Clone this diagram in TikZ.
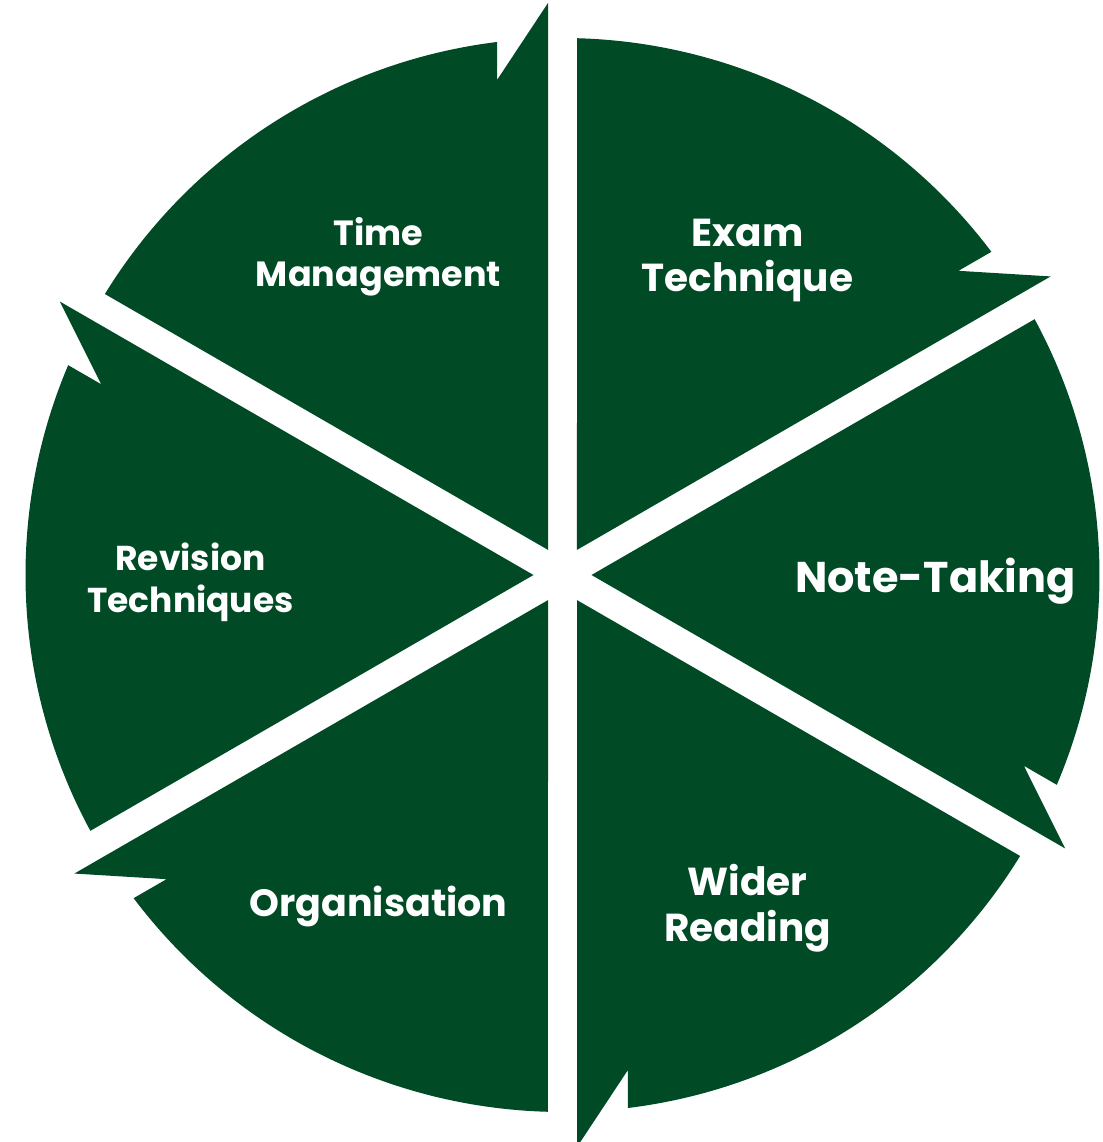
\documentclass[tikz,border=0pt]{standalone}
\usepackage{fontspec}
\setmainfont{Poppins}
\definecolor{wheelgreen}{HTML}{004B25}
\tikzset{
  sector/.style={fill=wheelgreen},
  lbl/.style 2 args={text=white, align=center, font=\bfseries\fontsize{#1}{#2}\selectfont},
}
\begin{document}
\begin{tikzpicture}[x=1pt,y=1pt]
  \useasboundingbox (-562.5,-567) rectangle (539.5,575);
  % six arrow-shaped sectors, each pointing clockwise
  \foreach \b in {30,-30,...,-270} {
    \fill[sector,rotate=\b] (25.1,14.5) -- (58.45:537)
      arc[start angle=58.45,end angle=7,radius=537]
      -- ++(-38,0) -- (572,14.5) -- cycle;
  }
  \node[lbl={35}{41}] (time)  at (-184,318)  {Time\\Management};
  \node[lbl={39}{45}] (exam)  at (185,314)   {Exam\\Technique};
  \node[lbl={43}{46}] (notes) at (373,-6)    {Note-Taking};
  \node[lbl={39}{46}] (wider) at (185,-333)  {Wider\\Reading};
  \node[lbl={38}{41}] (organ) at (-184,-332) {Organisation};
  \node[lbl={34.5}{42}] (revis) at (-372,-7) {Revision\\Techniques};
\end{tikzpicture}
\end{document}
